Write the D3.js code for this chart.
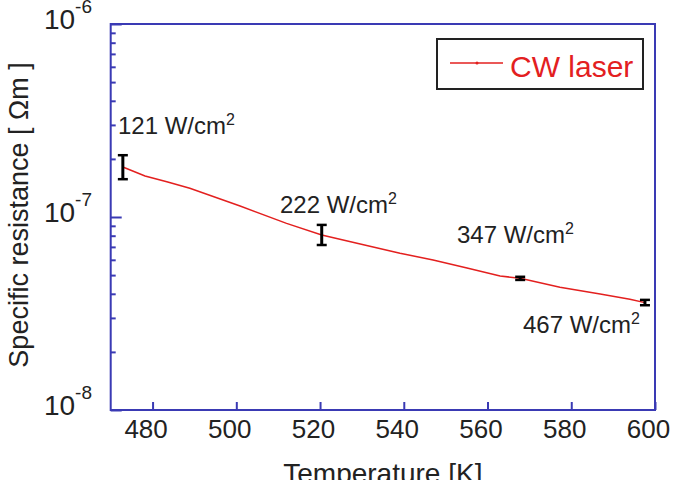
<!DOCTYPE html>
<html>
<head>
<meta charset="utf-8">
<script src="https://cdn.jsdelivr.net/npm/d3@7"></script>
<style>
  body { margin: 0; background: #fff; }
  svg { display: block; font-family: "Liberation Sans", Arial, sans-serif; }
</style>
</head>
<body>
<div id="chart"></div>
<script>
// resistance vs temperature
var lineT = [472.9, 478.2, 483.4, 488.9, 500.9, 512.0, 520.4, 529.6, 539.1, 547.0, 555.1, 563.0, 567.8, 577.3, 586.9, 594.0, 597.6];
var lineR = [1.816e-7, 1.63e-7, 1.524e-7, 1.41e-7, 1.14e-7, 9.27e-8, 8.07e-8, 7.24e-8, 6.49e-8, 5.99e-8, 5.44e-8, 4.95e-8, 4.81e-8, 4.33e-8, 3.99e-8, 3.75e-8, 3.60e-8];

// error bars at each power density
var errT = [472.9, 520.4, 567.8, 597.6];
var errLow = [1.57e-7, 7.16e-8, 4.72e-8, 3.49e-8];
var errHigh = [2.09e-7, 9.1e-8, 4.9e-8, 3.72e-8];
var powerLabels = ["121", "222", "347", "467"];

var xTicks = [480, 500, 520, 540, 560, 580, 600];
var yMajor = [1e-8, 1e-7, 1e-6];
var yExp = ["-8", "-7", "-6"];

var W = 676, H = 480;
var plotL = 110.7, plotR = 655, plotT = 24, plotB = 410;
var axisColor = "#3a3ab4";
var red = "#e3201f";

var svg = d3.select("#chart").append("svg")
    .attr("width", W)
    .attr("height", H);

var x = d3.scaleLinear().domain([470, 600]).range([plotL, plotR]);
var y = d3.scaleLog().domain([1e-8, 1e-6]).range([plotB, plotT]);

// minor ticks on the log axis
var yMinor = [];
[1e-8, 1e-7].forEach(function(d) {
    for (var k = 2; k <= 9; k++) yMinor.push(k * d);
});

var gyMinor = svg.append("g")
    .attr("transform", "translate(" + plotL + ",0)")
    .call(d3.axisLeft(y).tickValues(yMinor).tickSizeInner(-5).tickSizeOuter(0).tickFormat(""));
var gyMajor = svg.append("g")
    .attr("transform", "translate(" + plotL + ",0)")
    .call(d3.axisLeft(y).tickValues(yMajor).tickSizeInner(-11).tickSizeOuter(0).tickFormat(""));

var gx = svg.append("g")
    .attr("transform", "translate(0," + plotB + ")")
    .call(d3.axisBottom(x).tickValues(xTicks).tickSizeInner(-8).tickSizeOuter(0).tickPadding(10));

[gyMinor, gyMajor, gx].forEach(function(g) {
    g.selectAll(".domain").remove();
    g.selectAll(".tick line").attr("stroke", axisColor).attr("stroke-width", 2);
});
gx.selectAll(".tick text")
    .attr("font-size", 26)
    .attr("fill", "#222")
    .attr("dx", -7)
    .style("font-family", "Liberation Sans, Arial, sans-serif");

// frame
svg.append("rect")
    .attr("x", plotL)
    .attr("y", plotT)
    .attr("width", plotR - plotL)
    .attr("height", plotB - plotT)
    .attr("fill", "none")
    .attr("stroke", axisColor)
    .attr("stroke-width", 2);

// y tick labels with exponent
yMajor.forEach(function(v, i) {
    var t = svg.append("text")
        .attr("x", 92)
        .attr("y", y(v) + 5)
        .attr("text-anchor", "end")
        .attr("fill", "#222")
        .attr("font-size", 28);
    t.append("tspan").text("10");
    t.append("tspan").attr("dy", -16).attr("font-size", 19).text(yExp[i]);
});

// axis titles
svg.append("text")
    .attr("transform", "translate(28," + 215 + ") rotate(-90)")
    .attr("text-anchor", "middle")
    .attr("fill", "#222")
    .attr("font-size", 27)
    .text("Specific resistance [ \u03A9m ]");

svg.append("text")
    .attr("x", (plotL + plotR) / 2)
    .attr("y", 483)
    .attr("text-anchor", "middle")
    .attr("fill", "#222")
    .attr("font-size", 28)
    .text("Temperature [K]");

// data line
var line = d3.line()
    .x(function(d, i) { return x(lineT[i]); })
    .y(function(d, i) { return y(lineR[i]); });
svg.append("path")
    .datum(lineT)
    .attr("d", line)
    .attr("fill", "none")
    .attr("stroke", red)
    .attr("stroke-width", 1.5);

// error bars
var eb = svg.selectAll(".err")
    .data(errT)
    .enter()
    .append("g")
    .attr("class", "err");
eb.append("line")
    .attr("x1", function(d) { return x(d); })
    .attr("x2", function(d) { return x(d); })
    .attr("y1", function(d, i) { return y(errLow[i]); })
    .attr("y2", function(d, i) { return y(errHigh[i]); })
    .attr("stroke", "#000")
    .attr("stroke-width", 3);
eb.append("line")
    .attr("x1", function(d) { return x(d) - 5; })
    .attr("x2", function(d) { return x(d) + 5; })
    .attr("y1", function(d, i) { return y(errLow[i]); })
    .attr("y2", function(d, i) { return y(errLow[i]); })
    .attr("stroke", "#000")
    .attr("stroke-width", 2.5);
eb.append("line")
    .attr("x1", function(d) { return x(d) - 5; })
    .attr("x2", function(d) { return x(d) + 5; })
    .attr("y1", function(d, i) { return y(errHigh[i]); })
    .attr("y2", function(d, i) { return y(errHigh[i]); })
    .attr("stroke", "#000")
    .attr("stroke-width", 2.5);

// power density labels
var labelPos = [[118, 134], [280, 213], [457, 243], [523, 333]];
powerLabels.forEach(function(p, i) {
    var t = svg.append("text")
        .attr("x", labelPos[i][0])
        .attr("y", labelPos[i][1])
        .attr("fill", "#222")
        .attr("font-size", 24);
    t.append("tspan").text(p + " W/cm");
    t.append("tspan").attr("dy", -9).attr("font-size", 16).text("2");
});

// legend
svg.append("rect")
    .attr("x", 437)
    .attr("y", 39)
    .attr("width", 206)
    .attr("height", 50)
    .attr("fill", "#fff")
    .attr("stroke", "#222")
    .attr("stroke-width", 2);
svg.append("line")
    .attr("x1", 450).attr("x2", 503)
    .attr("y1", 63).attr("y2", 63)
    .attr("stroke", red)
    .attr("stroke-width", 1.5);
svg.append("circle")
    .attr("cx", 477).attr("cy", 63).attr("r", 1.5)
    .attr("fill", red);
svg.append("text")
    .attr("x", 510)
    .attr("y", 77)
    .attr("fill", red)
    .attr("font-size", 30)
    .text("CW laser");
</script>
</body>
</html>
